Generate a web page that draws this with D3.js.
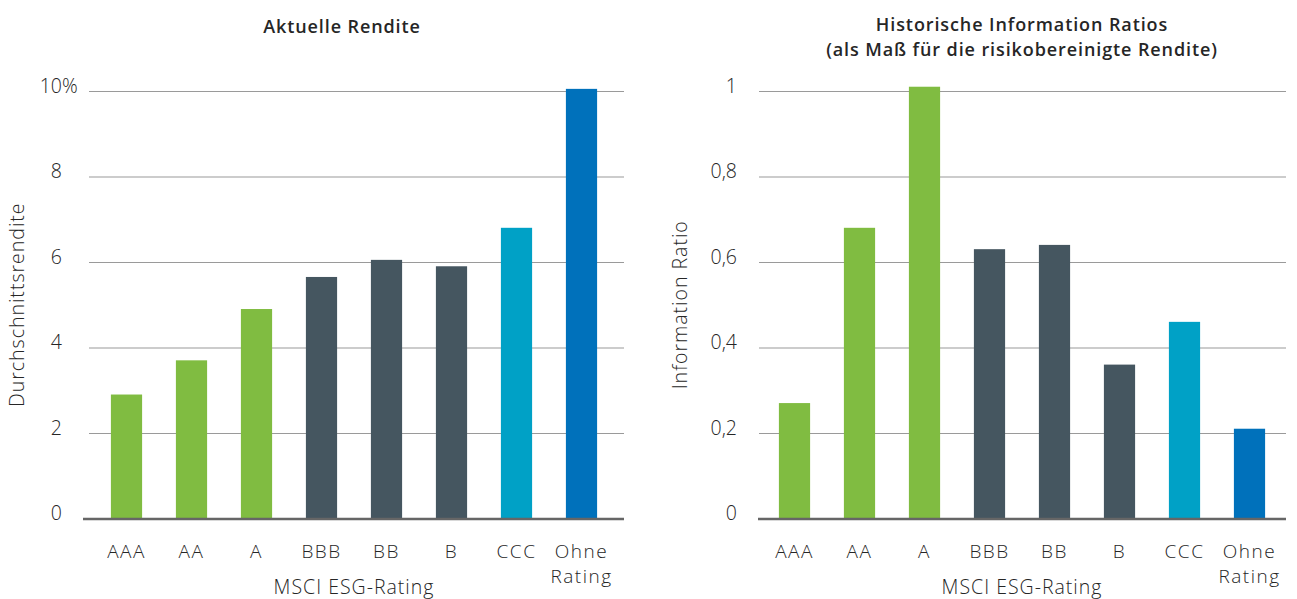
<!DOCTYPE html>
<html lang="de">
<head>
<meta charset="utf-8">
<script src="https://cdn.jsdelivr.net/npm/d3@7"></script>
<style>
  html, body { margin: 0; padding: 0; background: #fff; }
  svg { display: block; }
  svg text { font-family: "Open Sans", Lato, "Noto Sans", sans-serif; }
</style>
</head>
<body>
<svg id="chart" width="1297" height="599"></svg>
<script>
// MSCI ESG rating categories
const categories = ["AAA", "AA", "A", "BBB", "BB", "B", "CCC", "Ohne Rating"];

// Average current yield (%) per rating
const renditeValues = [2.9, 3.7, 4.9, 5.65, 6.05, 5.9, 6.8, 10.05];

// Historical information ratio per rating
const irValues = [0.27, 0.68, 1.01, 0.63, 0.64, 0.36, 0.46, 0.21];

// Colour group per rating: leaders, average, laggards, unrated
const ratingGroups = ["leader", "leader", "leader", "average", "average", "average", "laggard", "none"];
const groupColors = { leader: "#80bc41", average: "#455660", laggard: "#00a1c6", none: "#0071bb" };

// Tick values
const renditeTicks = [0, 2, 4, 6, 8, 10];
const irTicks = [0, 0.2, 0.4, 0.6, 0.8, 1];

const FONT = '"Open Sans", Lato, "Noto Sans", sans-serif';
const TEXT_COLOR = "#262626";
const LABEL_WEIGHT = 350;
const svg = d3.select("#chart");
const colorOf = i => groupColors[ratingGroups[i]];

function drawPanel(cfg) {
  const g = svg.append("g");
  const y = d3.scaleLinear().domain([0, cfg.yMax]).range([518.5, 91]);
  const x = d3.scaleBand().domain(categories)
    .range(cfg.bandRange).paddingInner(0.52).paddingOuter(0.26);

  // Gridlines + tick labels
  const yAxis = d3.axisLeft(y).tickValues(cfg.ticks)
    .tickSize(cfg.gridRight - cfg.gridLeft)
    .tickPadding(cfg.gridLeft - cfg.labelRight)
    .tickFormat(cfg.fmt);
  const ya = g.append("g")
    .attr("transform", `translate(${cfg.gridRight},0)`)
    .call(yAxis)
    .attr("font-family", FONT);
  ya.select(".domain").remove();
  ya.selectAll(".tick line").attr("stroke", "#9a9a9a").attr("stroke-width", 1.2);
  ya.selectAll(".tick text")
    .attr("fill", TEXT_COLOR).attr("font-size", 19.5).attr("font-weight", LABEL_WEIGHT)
    .attr("dy", "0")
    .attr("y", 1);
  if (cfg.suffix) {
    ya.selectAll(".tick").filter(d => d === cfg.yMax)
      .append("text")
      .attr("x", -(cfg.gridRight - cfg.labelRight))
      .attr("y", 1)
      .attr("fill", TEXT_COLOR).attr("font-size", 19.5).attr("font-weight", LABEL_WEIGHT)
      .attr("text-anchor", "start")
      .text(cfg.suffix);
  }

  // Bars
  g.append("g").selectAll("rect")
    .data(cfg.values)
    .join("rect")
    .attr("x", (d, i) => x(categories[i]))
    .attr("width", x.bandwidth())
    .attr("y", d => y(d))
    .attr("height", d => y(0) - y(d))
    .attr("fill", (d, i) => colorOf(i));

  // Baseline
  g.append("line")
    .attr("x1", cfg.baseLeft).attr("x2", cfg.gridRight)
    .attr("y1", y(0) + 0.5).attr("y2", y(0) + 0.5)
    .attr("stroke", "#666").attr("stroke-width", 2.5);

  // Category labels (two-word names wrap onto a second line)
  const xa = g.append("g")
    .attr("transform", `translate(0,${y(0)})`)
    .call(d3.axisBottom(x).tickSize(0).tickFormat(""));
  xa.select(".domain").remove();
  xa.selectAll(".tick").append("text")
    .attr("fill", TEXT_COLOR).attr("font-size", 19).attr("font-weight", LABEL_WEIGHT)
    .attr("font-family", FONT)
    .attr("letter-spacing", "1.5px")
    .attr("text-anchor", "middle")
    .selectAll("tspan")
    .data(d => d.split(" "))
    .join("tspan")
    .attr("x", 0)
    .attr("y", (d, i) => 39 + i * 25.5)
    .text(d => d);

  // Axis titles
  g.append("text")
    .attr("x", d3.mean(x.range())).attr("y", 594)
    .attr("text-anchor", "middle")
    .attr("fill", TEXT_COLOR).attr("font-size", 19.5).attr("font-weight", LABEL_WEIGHT)
    .attr("letter-spacing", "1px")
    .text("MSCI ESG-Rating");
  g.append("text")
    .attr("transform", `translate(${cfg.yTitleX},${(y(0) + y(cfg.yMax)) / 2}) rotate(-90)`)
    .attr("text-anchor", "middle")
    .attr("fill", TEXT_COLOR).attr("font-size", 19.5).attr("font-weight", LABEL_WEIGHT)
    .attr("letter-spacing", "1px")
    .text(cfg.yTitle);

  // Panel title
  g.append("text")
    .attr("x", cfg.titleX).attr("text-anchor", "middle")
    .attr("fill", TEXT_COLOR).attr("font-size", 18).attr("font-weight", 600)
    .attr("letter-spacing", "0.9px")
    .selectAll("tspan")
    .data(cfg.title)
    .join("tspan")
    .attr("x", cfg.titleX)
    .attr("y", (d, i) => cfg.titleY + i * 24.5)
    .text(d => d);
}

drawPanel({
  values: renditeValues, yMax: 10, ticks: renditeTicks,
  fmt: d => d3.format("d")(d), suffix: "%",
  bandRange: [94, 614], gridLeft: 89, gridRight: 624, baseLeft: 83, labelRight: 62,
  yTitle: "Durchschnittsrendite", yTitleX: 24,
  title: ["Aktuelle Rendite"], titleX: 342, titleY: 33
});

drawPanel({
  values: irValues, yMax: 1, ticks: irTicks,
  fmt: d => d === 0 || d === 1 ? String(d) : d3.format(".1f")(d).replace(".", ","),
  bandRange: [762, 1282], gridLeft: 759, gridRight: 1286, baseLeft: 758, labelRight: 737,
  yTitle: "Information Ratio", yTitleX: 687,
  title: ["Historische Information Ratios", "(als Maß für die risikobereinigte Rendite)"],
  titleX: 1022, titleY: 31
});
</script>
</body>
</html>
